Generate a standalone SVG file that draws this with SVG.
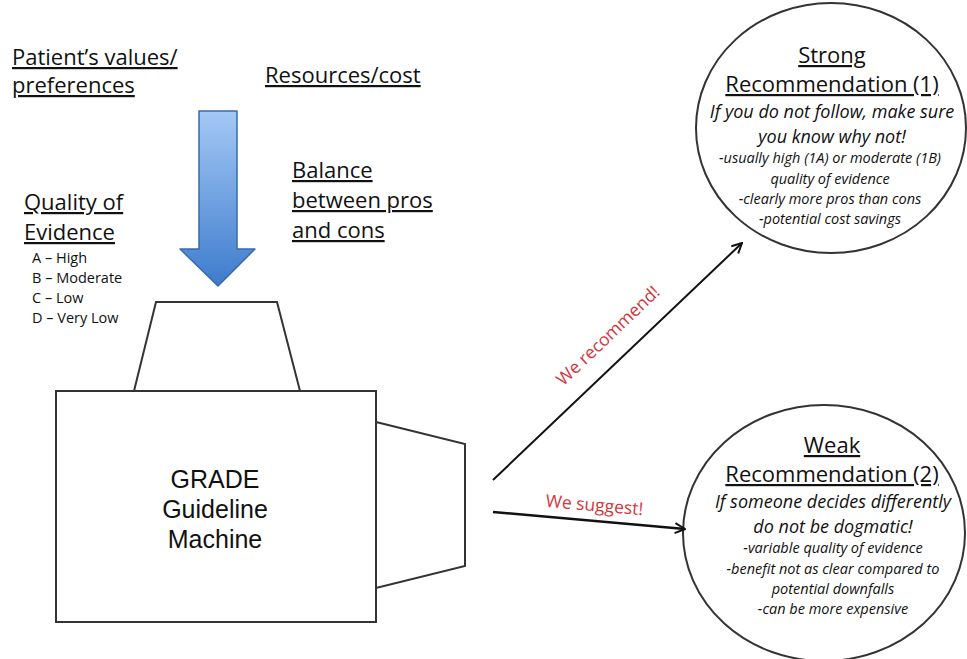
<svg xmlns="http://www.w3.org/2000/svg" width="967" height="659" viewBox="0 0 967 659">
<defs>
<linearGradient id="blue" x1="0" y1="0" x2="0" y2="1">
<stop offset="0" stop-color="#a4c8f6"/>
<stop offset="1" stop-color="#3d7ccc"/>
</linearGradient>
<marker id="open" viewBox="0 0 12 12" refX="11" refY="6" markerWidth="12" markerHeight="12" markerUnits="userSpaceOnUse" orient="auto">
<path d="M1,1 L11,6 L1,11" fill="none" stroke="#111" stroke-width="2"/>
</marker>
<style>
.h{font-family:"Open Sans",Lato,sans-serif;font-size:22px;fill:#111;text-decoration:underline}
.q{font-family:"Open Sans",Lato,sans-serif;font-size:14.5px;fill:#111}
.ti{font-family:"Open Sans",Lato,sans-serif;font-size:22px;fill:#111;text-decoration:underline;text-anchor:middle}
.it{font-family:"Open Sans",Lato,sans-serif;font-size:18px;font-style:italic;fill:#111;text-anchor:middle}
.sm{font-family:"Open Sans",Lato,sans-serif;font-size:14.5px;font-style:italic;fill:#111;text-anchor:middle}
.red{font-family:"Open Sans",Lato,sans-serif;font-size:17.5px;fill:#d2353d;text-anchor:middle}
.shape{fill:#fff;stroke:#333;stroke-width:2}
.m{font-family:"Liberation Sans",Arial,sans-serif;font-size:25px;fill:#111;text-anchor:middle}
</style>
</defs>
<rect width="967" height="659" fill="#fff"/>

<g id="inputs">
<text class="h" x="12" y="65">Patient’s values/</text>
<text class="h" x="12" y="93">preferences</text>
<text class="h" x="265" y="83">Resources/cost</text>
<text class="h" x="292" y="178">Balance</text>
<text class="h" x="292" y="208">between pros</text>
<text class="h" x="292" y="238">and cons</text>
<text class="h" x="24" y="210">Quality of</text>
<text class="h" x="24" y="240">Evidence</text>
<text class="q" x="32" y="263">A – High</text>
<text class="q" x="32" y="283">B – Moderate</text>
<text class="q" x="32" y="303">C – Low</text>
<text class="q" x="32" y="323">D – Very Low</text>
</g>

<g id="blue-arrow">
<path d="M199,111 L237,111 L237,249 L255,249 L218,286 L180,249 L199,249 Z" fill="url(#blue)" stroke="#3a6aa8" stroke-width="1.5" stroke-linejoin="round"/>
</g>

<g id="machine">
<path class="shape" d="M156,302 L277,302 L300,391 L134,391 Z"/>
<path class="shape" d="M376,422 L465,444 L465,566 L376,588 Z"/>
<rect class="shape" x="56" y="391" width="320" height="231"/>
<text class="m" x="215" y="488">GRADE</text>
<text class="m" x="215" y="518">Guideline</text>
<text class="m" x="215" y="548">Machine</text>
</g>

<g id="strong">
<ellipse class="shape" cx="831" cy="128" rx="135" ry="125" stroke-width="1.5"/>
<text class="ti" x="832" y="63">Strong</text>
<text class="ti" x="832" y="92">Recommendation (1)</text>
<text class="it" x="832" y="118">If you do not follow, make sure</text>
<text class="it" x="832" y="143">you know why not!</text>
<text class="sm" x="830" y="163">-usually high (1A) or moderate (1B)</text>
<text class="sm" x="830" y="183.5">quality of evidence</text>
<text class="sm" x="830" y="203.5">-clearly more pros than cons</text>
<text class="sm" x="830" y="223.5">-potential cost savings</text>
</g>

<g id="weak">
<ellipse class="shape" cx="824" cy="533" rx="141" ry="128" stroke-width="1.5"/>
<text class="ti" x="832" y="453">Weak</text>
<text class="ti" x="832" y="482">Recommendation (2)</text>
<text class="it" x="833" y="508">If someone decides differently</text>
<text class="it" x="833" y="533">do not be dogmatic!</text>
<text class="sm" x="833" y="553">-variable quality of evidence</text>
<text class="sm" x="833" y="573.5">-benefit not as clear compared to</text>
<text class="sm" x="833" y="593.5">potential downfalls</text>
<text class="sm" x="833" y="613.5">-can be more expensive</text>
</g>

<g id="connectors">
<line x1="493" y1="480" x2="742" y2="243" stroke="#111" stroke-width="2" marker-end="url(#open)"/>
<line x1="493" y1="512" x2="685" y2="529" stroke="#111" stroke-width="2.5" marker-end="url(#open)"/>
<text class="red" transform="translate(612,340) rotate(-43.6)">We recommend!</text>
<text class="red" transform="translate(594,511) rotate(5)">We suggest!</text>
</g>
</svg>
